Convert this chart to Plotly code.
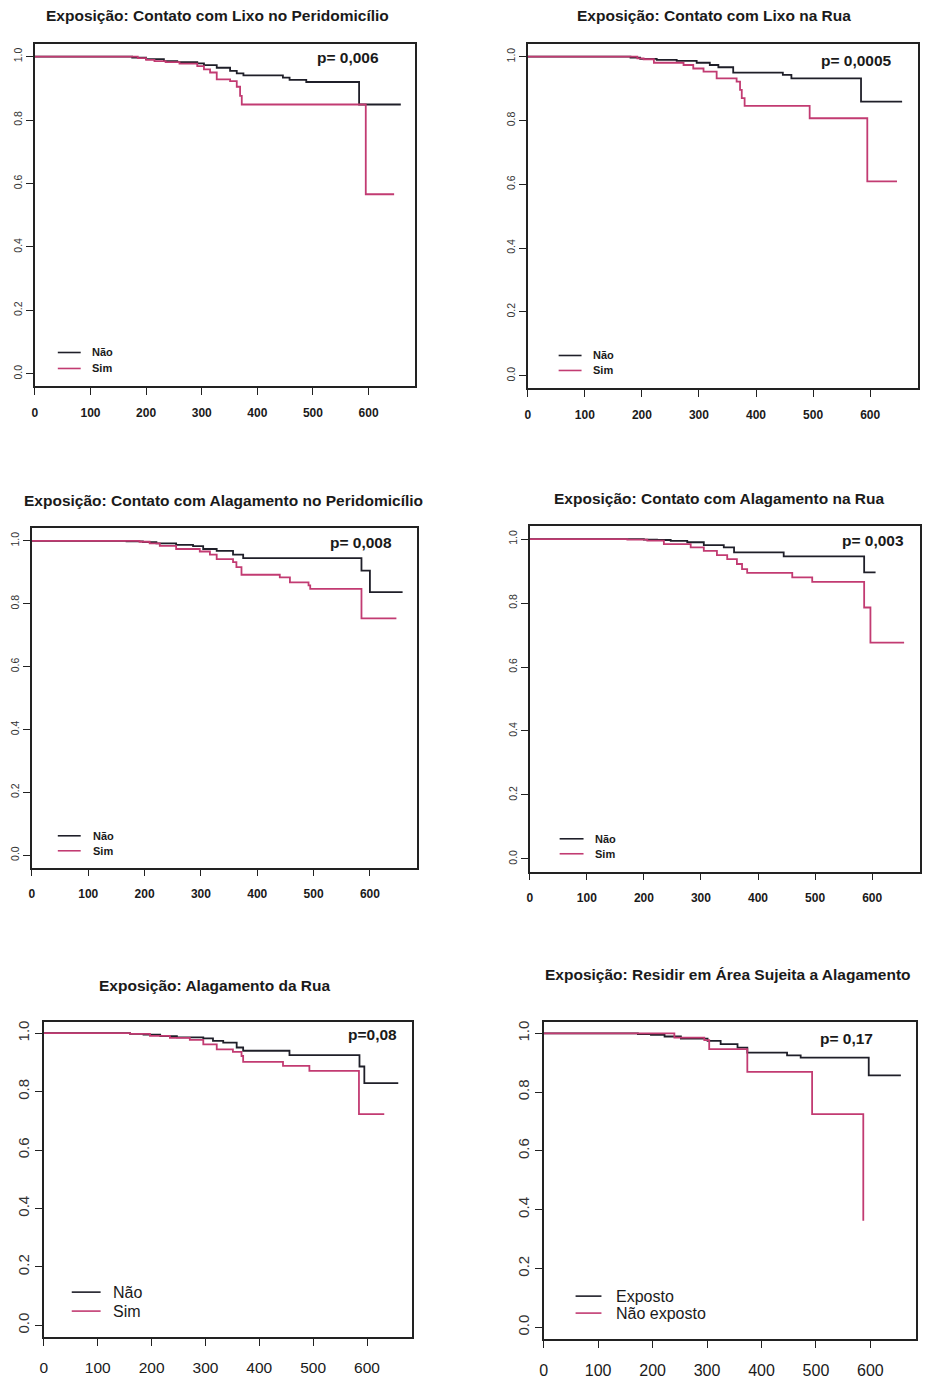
import plotly.graph_objects as go

# ---------------- data (Kaplan-Meier step points: time, survival) ----------------
p1_nao_t = [0, 175, 200, 232, 256, 292, 304, 327, 351, 363, 375, 446, 458, 488, 583, 658]
p1_nao_s = [1.0, 0.997, 0.992, 0.986, 0.983, 0.979, 0.973, 0.965, 0.955, 0.947, 0.941, 0.934, 0.927, 0.920, 0.849, 0.849]
p1_sim_t = [0, 185, 200, 215, 235, 260, 292, 304, 315, 327, 351, 363, 369, 372, 595, 646]
p1_sim_s = [1.0, 0.995, 0.990, 0.986, 0.983, 0.978, 0.970, 0.960, 0.950, 0.928, 0.923, 0.905, 0.876, 0.849, 0.566, 0.566]

p2_nao_t = [0, 180, 197, 226, 261, 296, 319, 334, 360, 447, 462, 584, 656]
p2_nao_s = [1.0, 0.997, 0.993, 0.990, 0.987, 0.981, 0.974, 0.967, 0.950, 0.943, 0.932, 0.859, 0.859]
p2_sim_t = [0, 192, 203, 221, 273, 290, 308, 331, 366, 372, 375, 380, 494, 595, 647]
p2_sim_s = [1.0, 0.995, 0.992, 0.981, 0.974, 0.963, 0.953, 0.932, 0.922, 0.896, 0.870, 0.846, 0.807, 0.609, 0.609]

p3_nao_t = [0, 168, 197, 221, 256, 286, 304, 328, 357, 375, 585, 600, 658]
p3_nao_s = [1.0, 0.998, 0.996, 0.992, 0.987, 0.983, 0.974, 0.968, 0.956, 0.945, 0.905, 0.837, 0.837]
p3_sim_t = [0, 191, 209, 227, 256, 298, 316, 328, 357, 363, 372, 440, 458, 491, 494, 585, 647]
p3_sim_s = [1.0, 0.997, 0.992, 0.984, 0.974, 0.966, 0.956, 0.942, 0.932, 0.916, 0.892, 0.884, 0.868, 0.858, 0.847, 0.753, 0.753]

p4_nao_t = [0, 200, 223, 247, 276, 305, 340, 358, 445, 586, 606]
p4_nao_s = [1.0, 0.998, 0.997, 0.994, 0.990, 0.981, 0.974, 0.958, 0.946, 0.896, 0.896]
p4_sim_t = [0, 171, 206, 235, 282, 305, 328, 346, 363, 372, 381, 460, 495, 586, 597, 656]
p4_sim_s = [1.0, 0.998, 0.995, 0.984, 0.974, 0.963, 0.950, 0.937, 0.922, 0.906, 0.894, 0.880, 0.866, 0.786, 0.676, 0.676]

p5_nao_t = [0, 160, 185, 216, 247, 296, 314, 333, 358, 370, 456, 586, 595, 658]
p5_nao_s = [1.0, 0.998, 0.995, 0.990, 0.986, 0.982, 0.974, 0.968, 0.951, 0.940, 0.925, 0.886, 0.829, 0.829]
p5_sim_t = [0, 160, 197, 234, 271, 296, 321, 351, 367, 370, 444, 493, 585, 632]
p5_sim_s = [1.0, 0.998, 0.991, 0.984, 0.977, 0.962, 0.945, 0.936, 0.922, 0.902, 0.888, 0.871, 0.723, 0.723]

p6_exp_t = [0, 173, 197, 222, 252, 301, 325, 356, 374, 447, 472, 597, 656]
p6_exp_s = [1.0, 0.997, 0.995, 0.989, 0.982, 0.974, 0.963, 0.951, 0.934, 0.925, 0.917, 0.857, 0.857]
p6_nexp_t = [0, 240, 295, 304, 374, 493, 587]
p6_nexp_s = [1.0, 0.985, 0.977, 0.946, 0.869, 0.725, 0.362]

titles = [
    "Exposição: Contato com Lixo no Peridomicílio",
    "Exposição: Contato com Lixo na Rua",
    "Exposição: Contato com Alagamento no Peridomicílio",
    "Exposição: Contato com Alagamento na Rua",
    "Exposição: Alagamento da Rua",
    "Exposição: Residir em Área Sujeita a Alagamento",
]
pvalues = ["p= 0,006", "p= 0,0005", "p= 0,008", "p= 0,003", "p=0,08", "p= 0,17"]
group_labels = [["Não", "Sim"]] * 5 + [["Exposto", "Não exposto"]]
x_ticks = [0, 100, 200, 300, 400, 500, 600]
y_ticks = [0.0, 0.2, 0.4, 0.6, 0.8, 1.0]

series = [
    ((p1_nao_t, p1_nao_s), (p1_sim_t, p1_sim_s)),
    ((p2_nao_t, p2_nao_s), (p2_sim_t, p2_sim_s)),
    ((p3_nao_t, p3_nao_s), (p3_sim_t, p3_sim_s)),
    ((p4_nao_t, p4_nao_s), (p4_sim_t, p4_sim_s)),
    ((p5_nao_t, p5_nao_s), (p5_sim_t, p5_sim_s)),
    ((p6_exp_t, p6_exp_s), (p6_nexp_t, p6_nexp_s)),
]

# ---------------- layout geometry (page pixels) ----------------
OFF = 8                      # default body margin of the html page
W, H = 938 - OFF, 1379 - OFF
def px(x): return (x - OFF) / W
def py(y): return 1 - (y - OFF) / H

# box: left, right, top, bottom
boxes = [(31, 413, 43, 386), (526, 918, 43, 388), (28, 415, 528, 868),
         (528, 920, 526, 872), (40, 410, 1022, 1338), (542, 916, 1022, 1340)]
title_pos = [(214, 15), (713, 15), (220, 500), (719, 498), (211, 986), (727, 975)]
p_pos = [(379, 57), (894, 60), (392, 542), (906, 540), (397, 1035), (875, 1039)]
# legend: line x0, x1, text x, row1 y, row2 y, font size, bold
leg_pos = [(54, 77, 86, 352, 368, 11, True), (557, 580, 590, 355, 370, 11, True),
           (54, 77, 87, 836, 851, 11, True), (558, 582, 592, 839, 854, 11, True),
           (68, 97, 107, 1293, 1312, 16, False), (574, 600, 613, 1297, 1314, 16, False)]
# tick font sizes: x size, x bold, y size, x standoff
tick_style = [(12, True, 10.5, 7), (12, True, 10.5, 7), (12, True, 10.5, 7), (12, True, 10.5, 7),
              (15.5, False, 15, 9), (16, False, 15, 9)]

BLACK = "#1f1f29"
PINK = "#c23b72"
TXT = "#1a1a1a"
FONT = "Liberation Sans, Arial, sans-serif"

fig = go.Figure()
annotations = []
shapes = []

for i in range(6):
    n = i + 1
    xa = "x" if n == 1 else f"x{n}"
    ya = "y" if n == 1 else f"y{n}"
    (t0, s0), (t1, s1) = series[i]
    fig.add_trace(go.Scatter(x=t0, y=s0, mode="lines", line=dict(color=BLACK, width=1.8, shape="hv"),
                             name=group_labels[i][0], showlegend=False, xaxis=xa, yaxis=ya))
    fig.add_trace(go.Scatter(x=t1, y=s1, mode="lines", line=dict(color=PINK, width=1.8, shape="hv"),
                             name=group_labels[i][1], showlegend=False, xaxis=xa, yaxis=ya))

    l, r, t, b = boxes[i]
    xs, xb, ys, sto = tick_style[i]
    fig.layout[f"xaxis{'' if n == 1 else n}"] = dict(
        domain=[px(l), px(r)], anchor=ya, range=[0, 684], tickvals=x_ticks,
        showline=True, mirror=True, linecolor="#222", linewidth=1.5,
        ticks="outside", ticklen=7, tickwidth=1.2, tickcolor="#222",
        showgrid=False, zeroline=False, ticklabelstandoff=sto,
        tickfont=dict(family=FONT, size=xs, color=TXT, weight="bold" if xb else "normal"))
    fig.layout[f"yaxis{'' if n == 1 else n}"] = dict(
        domain=[py(b), py(t)], anchor=xa, range=[-0.04, 1.04], tickvals=y_ticks,
        tickformat=".1f", tickangle=-90,
        showline=True, mirror=True, linecolor="#222", linewidth=1.5,
        ticks="outside", ticklen=7, tickwidth=1.2, tickcolor="#222",
        showgrid=False, zeroline=False,
        tickfont=dict(family=FONT, size=ys, color="#333"))

    cx, cy = title_pos[i]
    annotations.append(dict(text=titles[i], x=px(cx), y=py(cy), xref="paper", yref="paper",
                            xanchor="center", yanchor="middle", showarrow=False,
                            font=dict(family=FONT, size=15.5, color=TXT, weight="bold")))
    pxr, pyc = p_pos[i]
    annotations.append(dict(text=pvalues[i], x=px(pxr), y=py(pyc), xref="paper", yref="paper",
                            xanchor="right", yanchor="middle", showarrow=False,
                            font=dict(family=FONT, size=15.5, color=TXT, weight="bold")))
    lx0, lx1, ltx, ly1, ly2, lfs, lb = leg_pos[i]
    for yy, col, lab in ((ly1, BLACK, group_labels[i][0]), (ly2, PINK, group_labels[i][1])):
        shapes.append(dict(type="line", xref="paper", yref="paper", x0=px(lx0), x1=px(lx1),
                           y0=py(yy), y1=py(yy), line=dict(color=col, width=1.6)))
        annotations.append(dict(text=lab, x=px(ltx), y=py(yy), xref="paper", yref="paper",
                                xanchor="left", yanchor="middle", showarrow=False,
                                font=dict(family=FONT, size=lfs, color=TXT,
                                          weight="bold" if lb else "normal")))

fig.update_layout(width=W, height=H, margin=dict(l=0, r=0, t=0, b=0),
                  paper_bgcolor="white", plot_bgcolor="white",
                  showlegend=False, annotations=annotations, shapes=shapes)

fig.write_html("out.html")
